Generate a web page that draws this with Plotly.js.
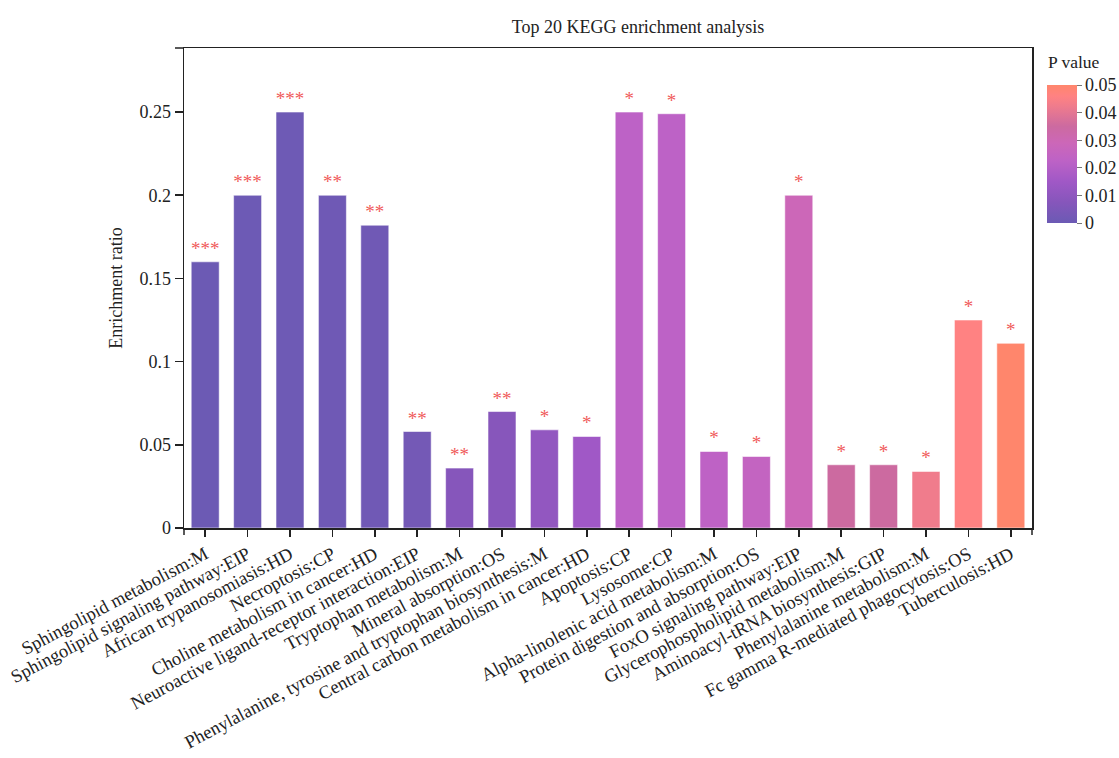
<!DOCTYPE html>
<html><head><meta charset="utf-8">
<script src="https://cdn.plot.ly/plotly-3.0.1.min.js"></script>
<style>html,body{margin:0;padding:0;background:#fff}#chart{width:1119px;height:758px}</style>
</head><body><div id="chart"></div>
<script>
const pathways = [
  'Sphingolipid metabolism:M',
  'Sphingolipid signaling pathway:EIP',
  'African trypanosomiasis:HD',
  'Necroptosis:CP',
  'Choline metabolism in cancer:HD',
  'Neuroactive ligand-receptor interaction:EIP',
  'Tryptophan metabolism:M',
  'Mineral absorption:OS',
  'Phenylalanine, tyrosine and tryptophan biosynthesis:M',
  'Central carbon metabolism in cancer:HD',
  'Apoptosis:CP',
  'Lysosome:CP',
  'Alpha-linolenic acid metabolism:M',
  'Protein digestion and absorption:OS',
  'FoxO signaling pathway:EIP',
  'Glycerophospholipid metabolism:M',
  'Aminoacyl-tRNA biosynthesis:GIP',
  'Phenylalanine metabolism:M',
  'Fc gamma R-mediated phagocytosis:OS',
  'Tuberculosis:HD'
];
const enrichmentRatio = [0.160, 0.200, 0.250, 0.200, 0.182, 0.058, 0.036, 0.070, 0.059, 0.055,
                         0.250, 0.249, 0.046, 0.043, 0.200, 0.038, 0.038, 0.034, 0.125, 0.111];
const pValues = [0.0004, 0.0006, 0.0008, 0.0012, 0.0015, 0.0025, 0.0075, 0.0078, 0.011, 0.015,
                 0.0225, 0.0225, 0.023, 0.025, 0.029, 0.035, 0.035, 0.0425, 0.046, 0.05];
const significance = ['***', '***', '***', '**', '**', '**', '**', '**', '*', '*',
                      '*', '*', '*', '*', '*', '*', '*', '*', '*', '*'];
const yTickVals = [0, 0.05, 0.1, 0.15, 0.2, 0.25];
const yTickText = ['0', '0.05', '0.1', '0.15', '0.2', '0.25'];
const cTickVals = [0, 0.01, 0.02, 0.03, 0.04, 0.05];
const cTickText = ['0', '0.01', '0.02', '0.03', '0.04', '0.05'];

const FONT = 'Liberation Serif, Times New Roman, serif';
const colorscale = [
  [0, '#6b5ab4'], [0.15, '#8656bb'], [0.3, '#a058c6'], [0.45, '#bd62c6'],
  [0.58, '#cc67b8'], [0.7, '#cc6aa0'], [0.85, '#f07c8c'], [0.92, '#ff8282'], [1, '#ff866c']
];

const PW = 848, PH = 480, PL = 184, PT = 48;
const trace = {
  type: 'bar',
  x: pathways,
  y: enrichmentRatio,
  width: 0.66,
  text: significance,
  textposition: 'outside',
  constraintext: 'none',
  cliponaxis: false,
  textfont: {family: FONT, size: 19, color: '#f05a5a'},
  hoverinfo: 'skip',
  marker: {
    color: pValues, cmin: 0, cmax: 0.05, colorscale: colorscale,
    line: {color: 'rgba(255,255,255,0.55)', width: 1},
    colorbar: {
      thickness: 30, lenmode: 'pixels', len: 138,
      x: (1047 - PL) / PW, xanchor: 'left', xpad: 0,
      y: (PT + PH - 223) / PH, yanchor: 'bottom', ypad: 0,
      outlinewidth: 0, ticks: 'outside', ticklen: 5, tickcolor: '#777',
      tickvals: cTickVals, ticktext: cTickText,
      tickfont: {family: FONT, size: 18, color: '#222'}
    }
  }
};

const lineCol = '#222';
const layout = {
  width: 1119, height: 758,
  paper_bgcolor: '#fff', plot_bgcolor: '#fff',
  font: {family: FONT, color: '#222'},
  margin: {l: PL, r: 1119 - PL - PW, t: PT, b: 758 - PT - PH, autoexpand: false},
  showlegend: false,
  title: {text: 'Top 20 KEGG enrichment analysis', x: 638/1119, xref: 'container', xanchor: 'center',
          y: 1 - 27/758, yref: 'container', yanchor: 'middle', font: {family: FONT, size: 18, color: '#222'}},
  xaxis: {
    type: 'category', showline: true, mirror: true, linecolor: lineCol, linewidth: 1.5,
    ticks: 'outside', ticklen: 7, tickwidth: 1.5, tickcolor: lineCol, tickangle: -28,
    tickfont: {family: FONT, size: 18.5, color: '#222'}, showgrid: false, zeroline: false,
    range: [-0.5, 19.5]
  },
  yaxis: {
    range: [0, 0.2885], showline: true, mirror: true, linecolor: lineCol, linewidth: 1.5,
    ticks: 'outside', ticklen: 8, tickwidth: 1.5, tickcolor: lineCol,
    tickvals: yTickVals, ticktext: yTickText,
    tickfont: {family: FONT, size: 18, color: '#222'}, showgrid: false, zeroline: false,
    title: {text: 'Enrichment ratio', font: {family: FONT, size: 18, color: '#222'}, standoff: 12}
  },
  annotations: [
    {text: 'P value', xref: 'paper', yref: 'paper', x: (1046 - PL) / PW, y: (PT + PH - 62) / PH,
     xanchor: 'left', yanchor: 'middle', showarrow: false, font: {family: FONT, size: 17.5, color: '#222'}}
  ],
  shapes: [
    {type: 'line', xref: 'paper', yref: 'paper', x0: 0, x1: 0, y0: 0, y1: -7/PH, line: {color: lineCol, width: 1.5}},
    {type: 'line', xref: 'paper', yref: 'paper', x0: 1, x1: 1, y0: 0, y1: -7/PH, line: {color: lineCol, width: 1.5}},
    {type: 'line', xref: 'paper', yref: 'paper', x0: -9/PW, x1: 0, y0: 1, y1: 1, line: {color: lineCol, width: 1.5}}
  ]
};

Plotly.newPlot('chart', [trace], layout, {displayModeBar: false, staticPlot: true});
</script>
</body></html>
